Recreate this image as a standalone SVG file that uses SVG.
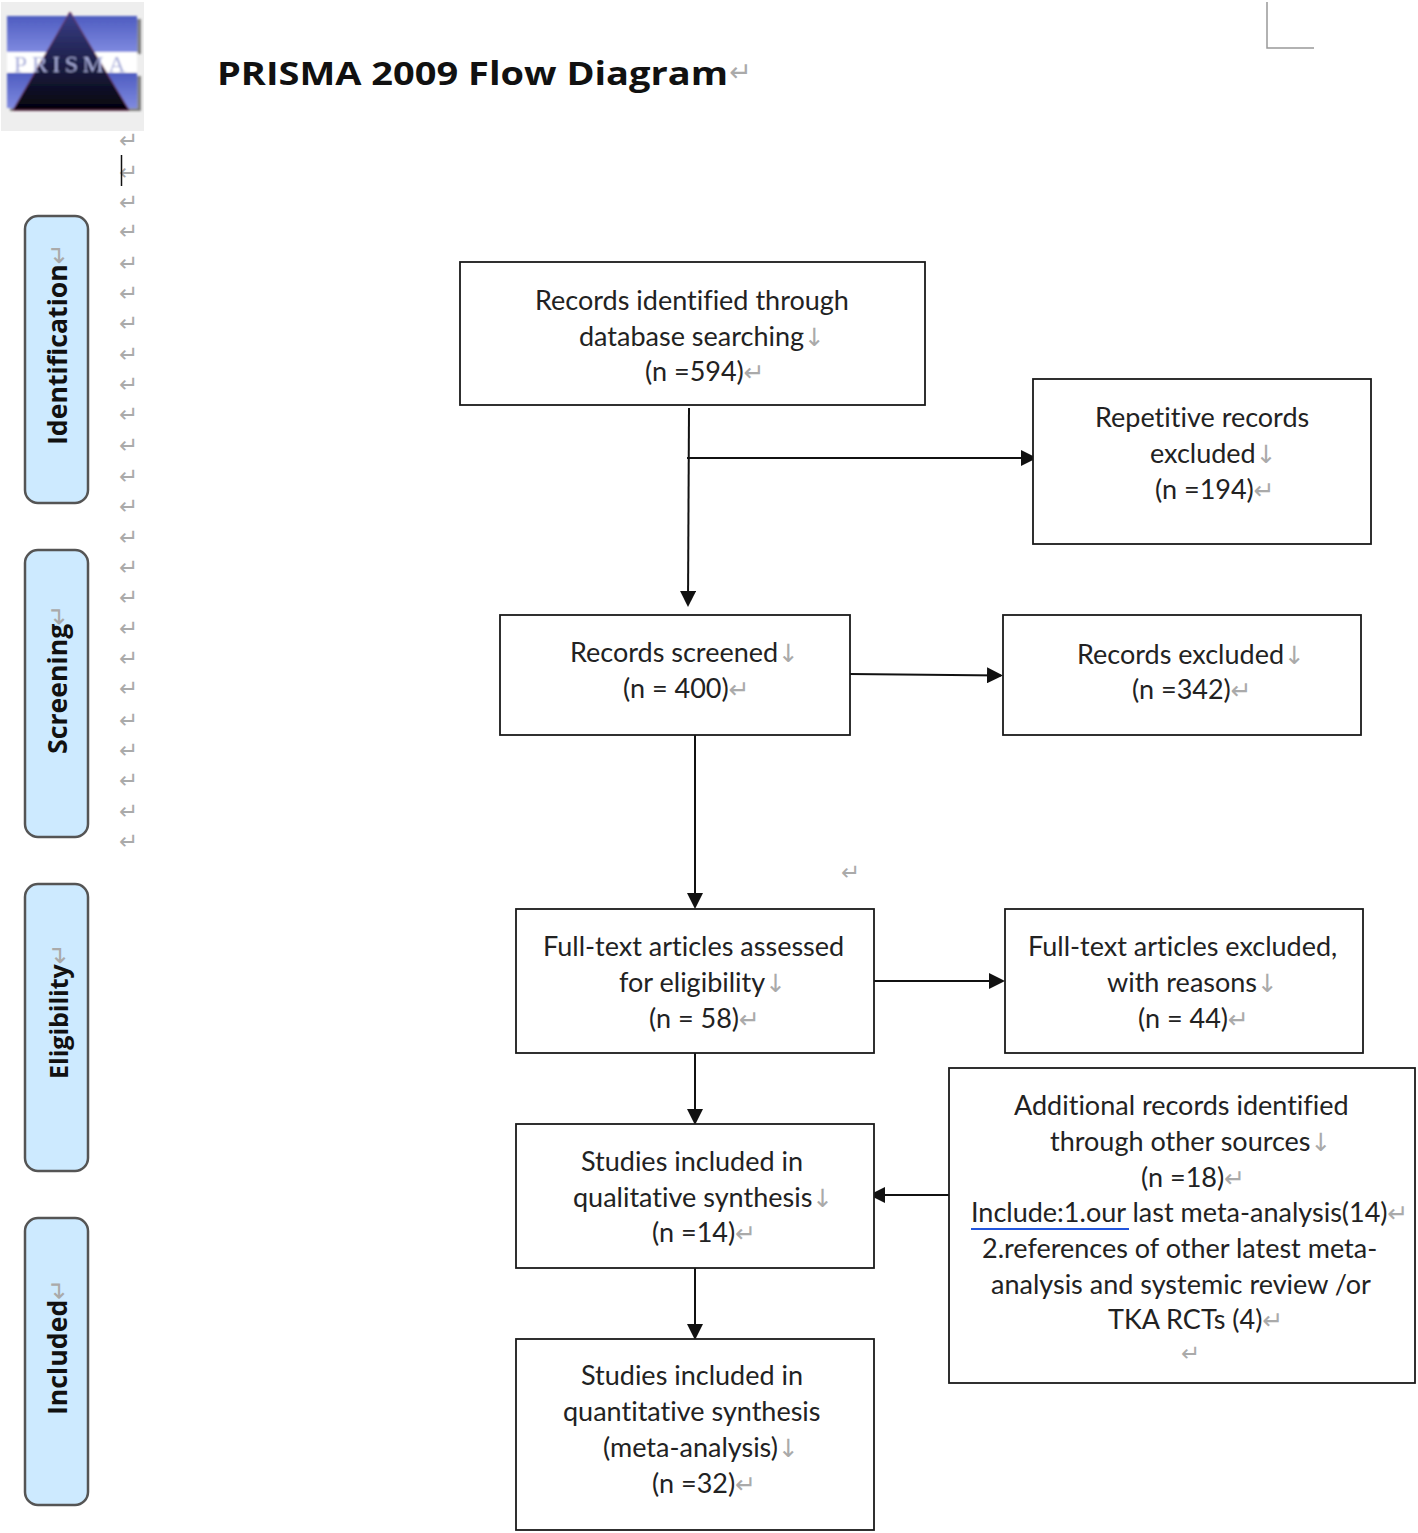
<svg xmlns="http://www.w3.org/2000/svg" width="1418" height="1533" viewBox="0 0 1418 1533">
<style>
.b{fill:#fff;stroke:#1a1a1a;stroke-width:1.800}
.t{font-family:Lato,"Noto Sans",sans-serif;font-size:27px;fill:#222;font-variant-ligatures:none}
.m{font-family:"DejaVu Sans",sans-serif;fill:#aaa;font-size:23px}
.s{fill:#cdeaff;stroke:#555;stroke-width:2.500}
.l{font-family:"Open Sans",sans-serif;font-weight:700;font-size:26.700px;fill:#111}
.c{fill:none;stroke:#111;stroke-width:2}
.g{fill:#aaa;font-family:"DejaVu Sans",sans-serif;font-size:25px}
.r{fill:#aaa;font-family:"DejaVu Sans",sans-serif;font-size:25px;font-weight:400}
</style>
<defs>
<marker id="a" markerWidth="8" markerHeight="8" refX="7" refY="4" orient="auto"><path d="M0 0L8 4L0 8Z" fill="#111"/></marker>
<linearGradient id="bar" x1="0" y1="0" x2="0" y2="1"><stop offset="0" stop-color="#4e5cc0"/><stop offset="1" stop-color="#7f8ae0"/></linearGradient>
<linearGradient id="tri" x1="0" y1="0" x2="0" y2="1"><stop offset="0" stop-color="#3a3f8a"/><stop offset="1" stop-color="#03030c"/></linearGradient>
<filter id="soft" x="-5%" y="-5%" width="110%" height="110%"><feGaussianBlur stdDeviation="0.900"/></filter>
</defs>
<g id="logo">
<rect x="1" y="2" width="143" height="129" fill="#eeeeee"/>
<g filter="url(#soft)">
<rect x="10" y="19" width="131" height="35" fill="#333" opacity=".6"/>
<rect x="10" y="76" width="131" height="35" fill="#333" opacity=".6"/>
<rect x="7" y="16" width="130" height="36" fill="url(#bar)"/>
<rect x="7" y="52" width="130" height="20" fill="#fff"/>
<rect x="7" y="73" width="130" height="35" fill="url(#bar)"/>
<path d="M70 12L129 110H13Z" fill="url(#tri)" stroke="#6a2a4a"/>
<text x="72" y="72" font-family="Liberation Serif,serif" font-size="24" fill="#a9aedb" text-anchor="middle" letter-spacing="4.500">PRISMA</text>
</g>
</g>
<g id="title">
<text x="217" y="85" font-family="Open Sans,sans-serif" font-weight="700" font-size="32.500px" fill="#111" textLength="511" lengthAdjust="spacingAndGlyphs">PRISMA 2009 Flow Diagram</text>
<text x="729" y="81" class="m" style="font-size:27px">↵</text>
</g>
<g id="crop-mark"><path d="M1267 2V48H1314" fill="none" stroke="#999" stroke-width="1.500"/></g>
<g id="margin-marks">
<text class="m" x="119" y="148">↵</text><text class="m" x="119" y="180">↵</text><text class="m" x="119" y="210">↵</text><text class="m" x="119" y="239">↵</text><text class="m" x="119" y="271">↵</text><text class="m" x="119" y="301">↵</text><text class="m" x="119" y="331">↵</text><text class="m" x="119" y="362">↵</text><text class="m" x="119" y="392">↵</text><text class="m" x="119" y="422">↵</text><text class="m" x="119" y="453">↵</text><text class="m" x="119" y="484">↵</text><text class="m" x="119" y="514">↵</text><text class="m" x="119" y="545">↵</text><text class="m" x="119" y="575">↵</text><text class="m" x="119" y="605">↵</text><text class="m" x="119" y="636">↵</text><text class="m" x="119" y="666">↵</text><text class="m" x="119" y="696">↵</text><text class="m" x="119" y="728">↵</text><text class="m" x="119" y="758">↵</text><text class="m" x="119" y="788">↵</text><text class="m" x="119" y="819">↵</text><text class="m" x="119" y="849">↵</text>
<path d="M121.500 155V186" stroke="#111" stroke-width="1.500"/>
<text class="m" x="841" y="880">↵</text>
</g>
<g id="stage-identification"><rect class="s" x="25" y="216" width="63" height="287" rx="13"/>
<text class="l" transform="translate(67 445) rotate(-90)">Identification<tspan class="r">↵</tspan></text></g>
<g id="stage-screening"><rect class="s" x="25" y="550" width="63" height="287" rx="13"/>
<text class="l" transform="translate(67 754) rotate(-90)">Screening<tspan class="r" dx="-2">↵</tspan></text></g>
<g id="stage-eligibility"><rect class="s" x="25" y="884" width="63" height="287" rx="13"/>
<text class="l" transform="translate(68 1079) rotate(-90)" style="font-size:25px">Eligibility<tspan class="r">↵</tspan></text></g>
<g id="stage-included"><rect class="s" x="25" y="1218" width="63" height="287" rx="13"/>
<text class="l" transform="translate(67 1415) rotate(-90)">Included<tspan class="r">↵</tspan></text></g>
<g id="connectors">
<path class="c" marker-end="url(#a)" d="M689 408L688 605"/>
<path class="c" marker-end="url(#a)" d="M687 458H1035"/>
<path class="c" marker-end="url(#a)" d="M850 674L1001 675.500"/>
<path class="c" marker-end="url(#a)" d="M695 735V907"/>
<path class="c" marker-end="url(#a)" d="M874 981H1003"/>
<path class="c" marker-end="url(#a)" d="M695 1053V1123"/>
<path class="c" marker-end="url(#a)" d="M949 1195H871"/>
<path class="c" marker-end="url(#a)" d="M695 1268V1338"/>
</g>
<g id="n1"><rect class="b" x="460" y="262" width="465" height="143"/>
<text class="t" x="535" y="310">Records identified through</text>
<text class="t" x="579" y="346">database searching<tspan class="g">↓</tspan></text>
<text class="t" x="645" y="381">(n =594)<tspan class="g">↵</tspan></text></g>
<g id="n2"><rect class="b" x="1033" y="379" width="338" height="165"/>
<text class="t" x="1095" y="427">Repetitive records</text>
<text class="t" x="1150" y="463">excluded<tspan class="g">↓</tspan></text>
<text class="t" x="1155" y="499">(n =194)<tspan class="g">↵</tspan></text></g>
<g id="n3"><rect class="b" x="500" y="615" width="350" height="120"/>
<text class="t" x="570" y="662">Records screened<tspan class="g">↓</tspan></text>
<text class="t" x="623" y="698">(n = 400)<tspan class="g">↵</tspan></text></g>
<g id="n4"><rect class="b" x="1003" y="615" width="358" height="120"/>
<text class="t" x="1077" y="664">Records excluded<tspan class="g">↓</tspan></text>
<text class="t" x="1132" y="699">(n =342)<tspan class="g">↵</tspan></text></g>
<g id="n5"><rect class="b" x="516" y="909" width="358" height="144"/>
<text class="t" x="543" y="956">Full-text articles assessed</text>
<text class="t" x="619" y="992">for eligibility<tspan class="g">↓</tspan></text>
<text class="t" x="649" y="1028">(n = 58)<tspan class="g">↵</tspan></text></g>
<g id="n6"><rect class="b" x="1005" y="909" width="358" height="144"/>
<text class="t" x="1028" y="956">Full-text articles excluded,</text>
<text class="t" x="1107" y="992">with reasons<tspan class="g">↓</tspan></text>
<text class="t" x="1138" y="1028">(n = 44)<tspan class="g">↵</tspan></text></g>
<g id="n7"><rect class="b" x="516" y="1124" width="358" height="144"/>
<text class="t" x="581" y="1171">Studies included in</text>
<text class="t" x="573" y="1207">qualitative synthesis<tspan class="g">↓</tspan></text>
<text class="t" x="652" y="1242">(n =14)<tspan class="g">↵</tspan></text></g>
<g id="n8"><rect class="b" x="516" y="1339" width="358" height="191"/>
<text class="t" x="581" y="1385">Studies included in</text>
<text class="t" x="563" y="1421">quantitative synthesis</text>
<text class="t" x="603" y="1457">(meta-analysis)<tspan class="g">↓</tspan></text>
<text class="t" x="652" y="1493">(n =32)<tspan class="g">↵</tspan></text></g>
<g id="n9"><rect class="b" x="949" y="1068" width="466" height="315"/>
<text class="t" x="1014" y="1115">Additional records identified</text>
<text class="t" x="1050" y="1151">through other sources<tspan class="g">↓</tspan></text>
<text class="t" x="1141" y="1187">(n =18)<tspan class="g">↵</tspan></text>
<text class="t" x="971" y="1222">Include:1.our last meta-analysis(14)<tspan class="g">↵</tspan></text>
<path d="M971 1229H1129" stroke="#2255dd" stroke-width="2"/>
<text class="t" x="982" y="1258">2.references of other latest meta-</text>
<text class="t" x="991" y="1294">analysis and systemic review /or</text>
<text class="t" x="1108" y="1329">TKA RCTs (4)<tspan class="g">↵</tspan></text>
<text class="m" x="1181" y="1361">↵</text></g>
</svg>
